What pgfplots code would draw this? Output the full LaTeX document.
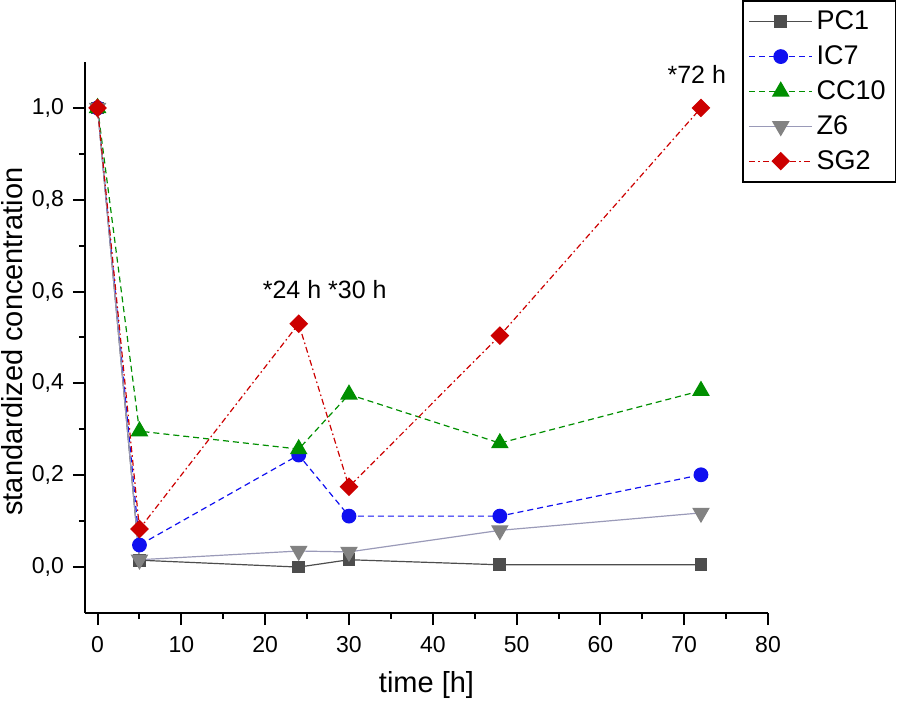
\documentclass[border=0pt]{standalone}
\usepackage{pgfplots}
\pgfplotsset{compat=1.18}
\usepackage{fontspec}
\setmainfont{Liberation Sans}
\definecolor{pcgrey}{HTML}{4D4D4D}
\definecolor{icblue}{HTML}{1010F0}
\definecolor{ccgreen}{HTML}{008F00}
\definecolor{zline}{HTML}{9A9AB8}
\definecolor{zmark}{HTML}{828282}
\definecolor{sgred}{HTML}{CC0000}
\begin{document}
\begin{tikzpicture}
\path[use as bounding box] (-42.5pt,-44pt) rectangle (406.5pt,306.5pt);
\begin{axis}[
  scale only axis, width=341.5pt, height=275.5pt,
  at={(0,0)}, anchor=south west,
  xmin=-1.5, xmax=80, ymin=-0.1, ymax=1.1,
  axis x line*=bottom, axis y line*=left,
  axis line style={-, line width=1pt, black},
  xtick={0,10,20,30,40,50,60,70,80},
  ytick={0,0.2,0.4,0.6,0.8,1.0},
  minor x tick num=1, minor y tick num=1,
  tick align=outside, major tick length=6pt, minor tick length=3pt,
  every tick/.style={black, line width=1pt},
  /pgf/number format/assume math mode=true,
  ticklabel style={font=\fontsize{11.5}{13}\selectfont},
  xticklabel style={yshift=-2pt},
  yticklabel style={xshift=-1pt, /pgf/number format/.cd, use comma, fixed, fixed zerofill, precision=1},
  xlabel={time [h]}, ylabel={standardized concentration},
  label style={font=\fontsize{14.5}{16}\selectfont},
  xlabel style={at={(axis description cs:0.5,-0.131)}, anchor=center},
  ylabel style={at={(axis description cs:-0.106,0.4927)}, anchor=center},
  legend style={at={(axis description cs:0.962,1.1125)}, anchor=north west,
    draw=black, line width=0.8pt, font=\fontsize{13.5}{15}\selectfont,
    legend cell align=left, row sep=2.5pt, inner xsep=3pt, inner ysep=3pt},
  legend image code/.code={\draw[mark repeat=2,mark phase=2] plot coordinates {(0cm,0cm) (0.55cm,0cm) (1.1cm,0cm)};},
  clip=false,
]
\addplot[pcgrey, line width=0.6pt, mark=square*, mark size=2.9pt, mark options={solid, fill=pcgrey}]
  coordinates {(0,1.0) (5,0.015) (24,0.0) (30,0.016) (48,0.005) (72,0.005)};
\addlegendentry{PC1}
\addplot[icblue, line width=0.6pt, dash pattern=on 3pt off 2pt, mark=*, mark size=3.4pt, mark options={solid, fill=icblue}]
  coordinates {(0,1.0) (5,0.048) (24,0.244) (30,0.111) (48,0.111) (72,0.201)};
\addlegendentry{IC7}
\addplot[ccgreen, line width=0.6pt, dash pattern=on 3pt off 2pt, mark=triangle*, mark size=4.5pt, mark options={solid, fill=ccgreen}]
  coordinates {(0,1.0) (5,0.296) (24,0.257) (30,0.376) (48,0.270) (72,0.384)};
\addlegendentry{CC10}
\addplot[zline, line width=0.6pt, mark=triangle*, mark size=4.5pt, mark options={solid, rotate=180, fill=zmark, draw=zmark}]
  coordinates {(0,1.0) (5,0.016) (24,0.035) (30,0.033) (48,0.080) (72,0.118)};
\addlegendentry{Z6}
\addplot[sgred, line width=0.6pt, dash pattern=on 3pt off 1.5pt on 0.8pt off 1.5pt, mark=square*, mark size=3pt, mark options={solid, rotate=45, fill=sgred}]
  coordinates {(0,1.0) (5,0.083) (24,0.530) (30,0.175) (48,0.504) (72,1.0)};
\addlegendentry{SG2}
\node[font=\fontsize{12.5}{14}\selectfont] at (axis cs:27.1,0.604) {*24 h *30 h};
\node[font=\fontsize{12.5}{14}\selectfont] at (axis cs:71.5,1.072) {*72 h};
\end{axis}
\end{tikzpicture}
\end{document}
